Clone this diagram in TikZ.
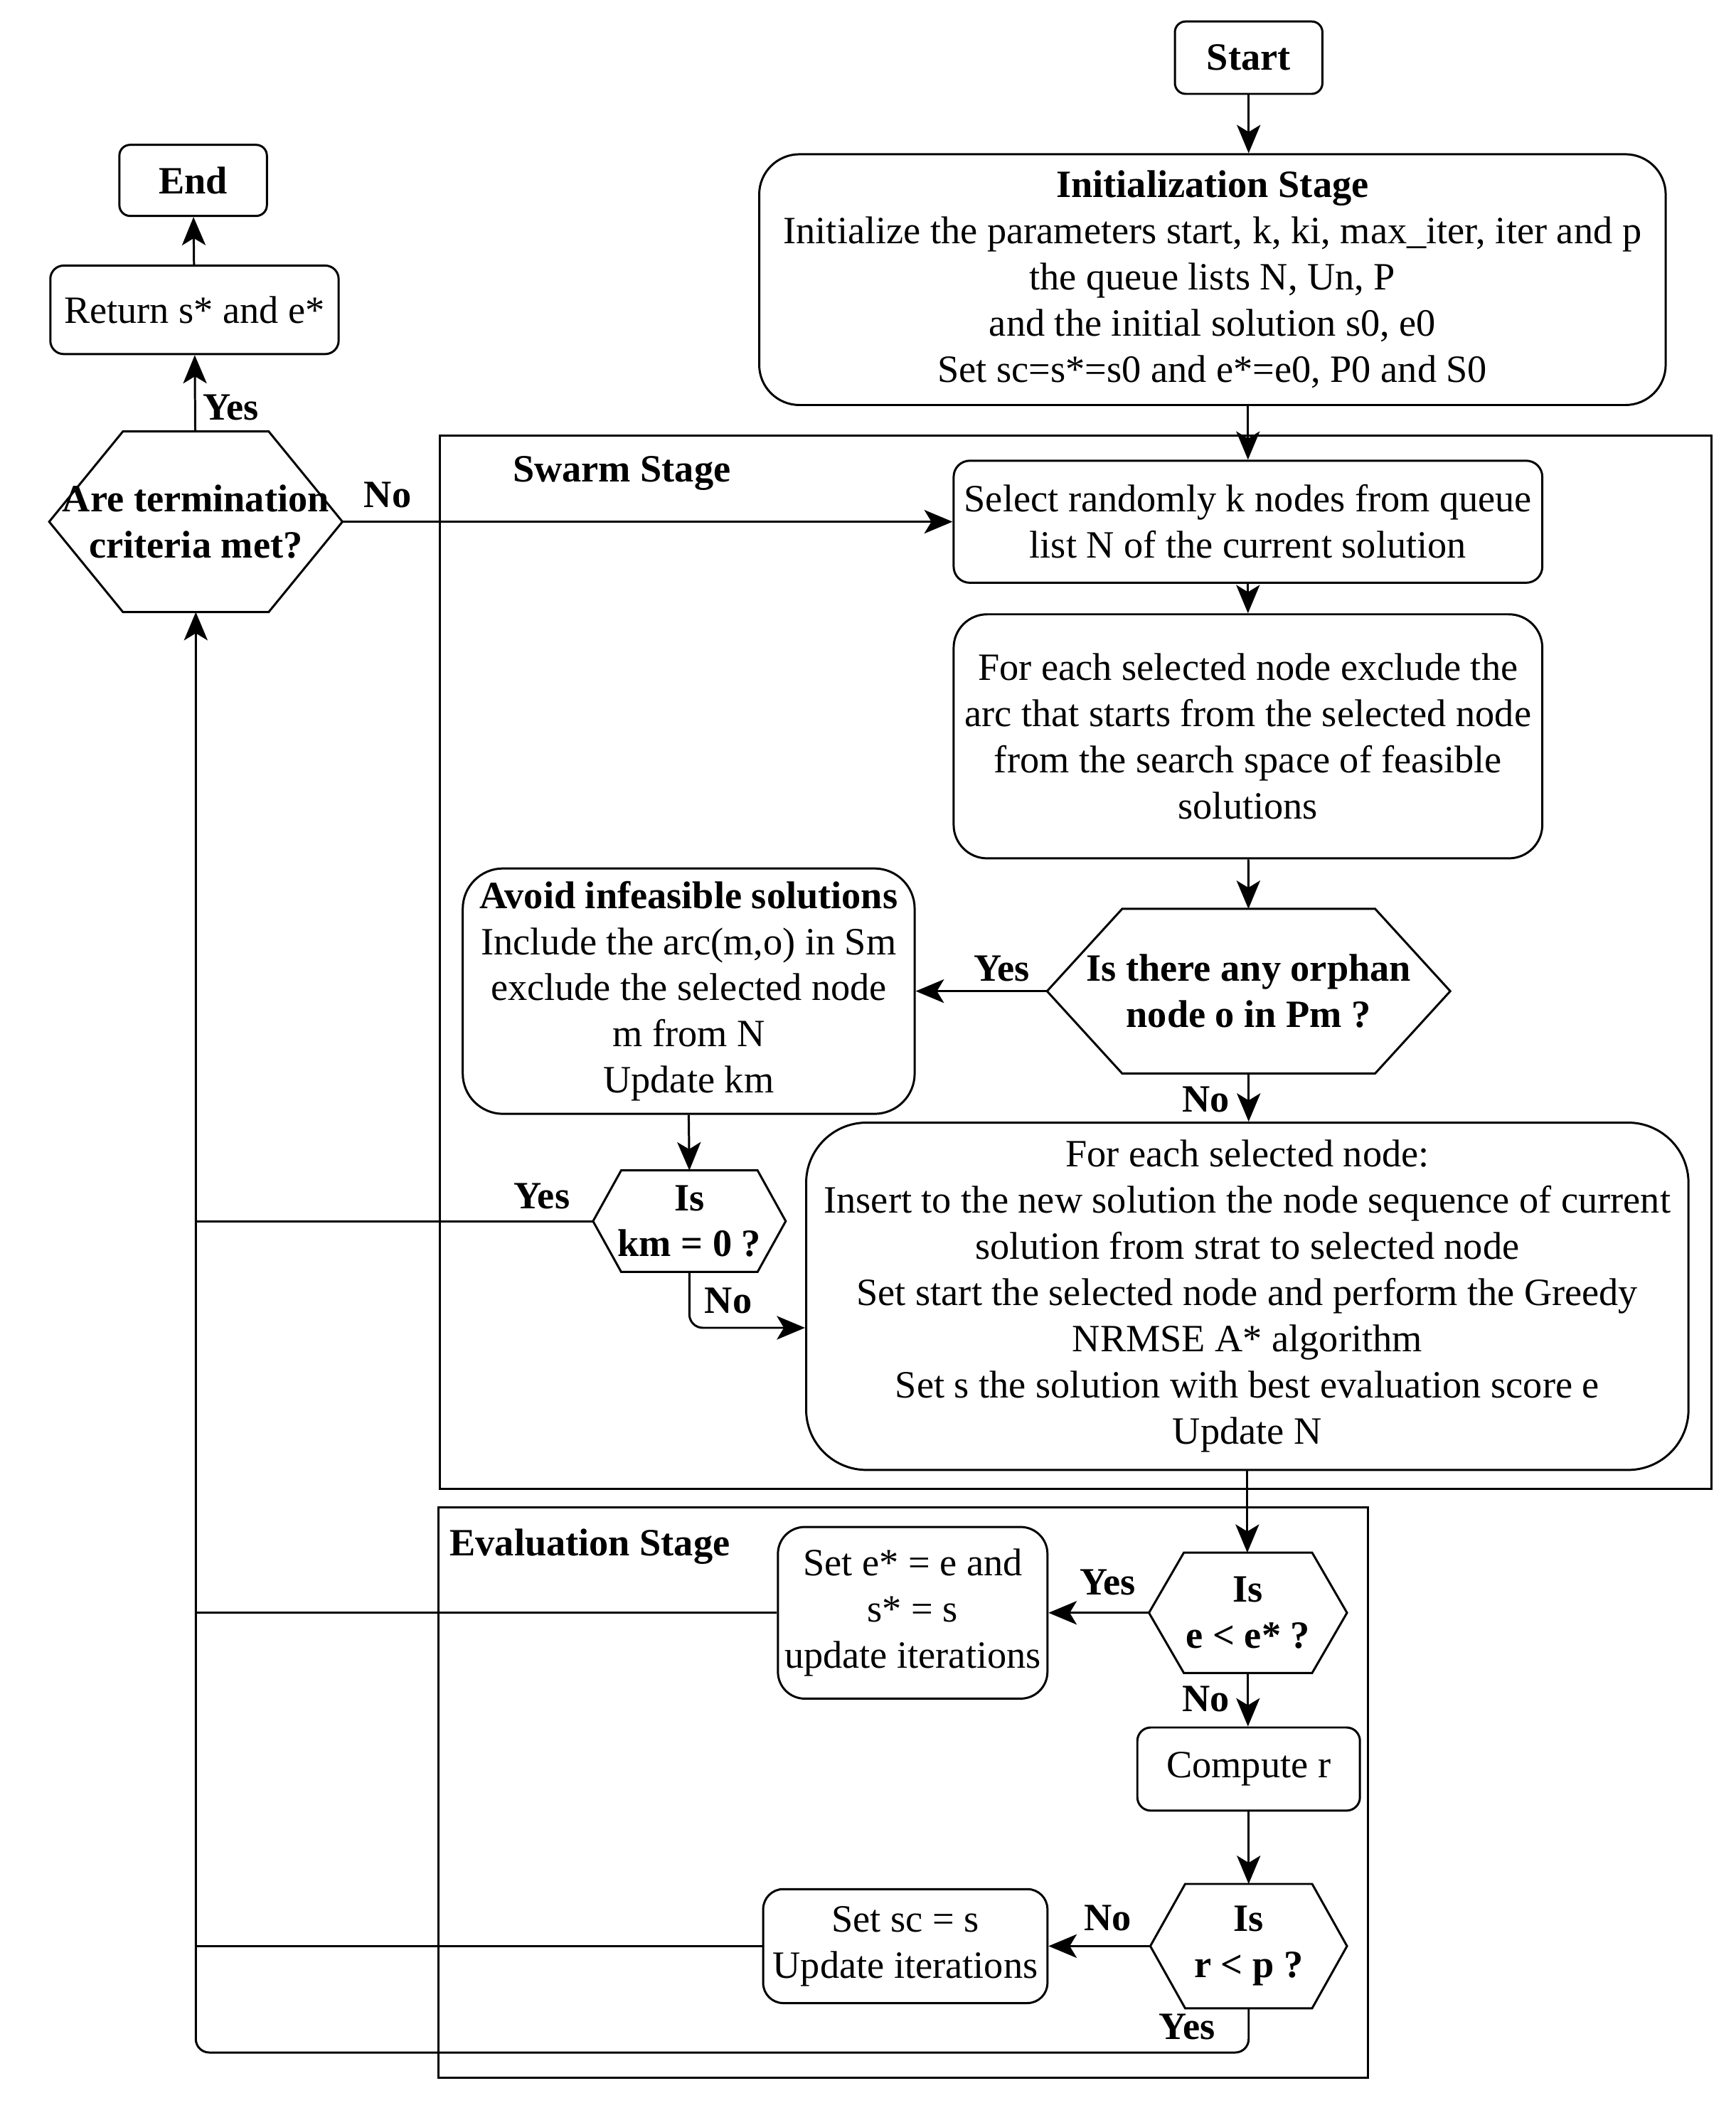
\documentclass[tikz,border=0pt]{standalone}
\usepackage{fontspec}
\setmainfont{Liberation Serif}
\usetikzlibrary{arrows.meta}

\newcommand{\sz}{\fontsize{16.4}{19.6}\selectfont}
\newcommand{\hexout}[2]{\draw[line] (#1.west) -- ([xshift=#2]#1.north west) -- ([xshift=-#2]#1.north east) -- (#1.east) -- ([xshift=-#2]#1.south east) -- ([xshift=#2]#1.south west) -- cycle;}

\tikzset{
  line/.style={line width=0.9pt},
  box/.style={draw, line width=0.9pt, rounded corners=#1, align=center, inner sep=0pt},
  box/.default=0.2cm,
  hexa/.style={align=center, inner sep=0pt, font=\sz\bfseries},
  arr/.style={line width=0.9pt, -{Stealth[length=12pt,width=10pt,inset=3pt]}},
  lbl/.style={font=\sz\bfseries, inner sep=0pt}
}

\begin{document}
\begin{tikzpicture}[x=0.02cm, y=-0.02cm, font=\sz]
\useasboundingbox (0,0) rectangle (1294,1568);

% stages
\draw[line] (328,325) rectangle (1276,1110);
\draw[line] (327,1124) rectangle (1020,1549);
\node (swarm) at (382,353) [lbl, anchor=west] {Swarm Stage};
\node (eval) at (335,1153) [lbl, anchor=west] {Evaluation Stage};

\node (start) at (931,43) [box=0.16cm, minimum width=2.2cm, minimum height=1.08cm] {\textbf{Start}};
\node (init) at (904,208.5) [box=0.6cm, minimum width=13.52cm, minimum height=3.74cm] {\textbf{Initialization Stage}\\Initialize the parameters start, k, ki, max\_iter, iter and p\\the queue lists N, Un, P\\and the initial solution s0, e0\\Set sc=s*=s0 and e*=e0, P0 and S0};
\node (end) at (144,134.5) [box=0.16cm, minimum width=2.2cm, minimum height=1.06cm] {\textbf{End}};
\node (ret) at (145,231) [box=0.2cm, minimum width=4.3cm, minimum height=1.32cm] {Return s* and e*};
\node (term) at (146,389) [hexa, minimum width=4.36cm, minimum height=2.68cm] {Are termination\\criteria met?};

\node (select) at (930.5,389) [box=0.24cm, minimum width=8.78cm, minimum height=1.82cm] {Select randomly k nodes from queue\\list N of the current solution};
\node (excl) at (930.5,549) [box=0.5cm, minimum width=8.78cm, minimum height=3.64cm] {For each selected node exclude the\\arc that starts from the selected node\\from the search space of feasible\\solutions};
\node (orphan) at (931,739) [hexa, minimum width=6cm, minimum height=2.44cm] {Is there any orphan\\node o in Pm ?};
\node (avoid) at (513.5,739) [box=0.6cm, minimum width=6.74cm, minimum height=3.66cm] {\textbf{Avoid infeasible solutions}\\Include the arc(m,o) in Sm\\exclude the selected node\\m from N\\Update km};
\node (km) at (514,910.5) [hexa, minimum width=2.86cm, minimum height=1.5cm] {Is\\km = 0 ?};
\node (big) at (930,966.5) [box=0.9cm, minimum width=13.16cm, minimum height=5.18cm] {For each selected node:\\Insert to the new solution the node sequence of current\\solution from strat to selected node\\Set start the selected node and perform the Greedy\\NRMSE A* algorithm\\Set s the solution with best evaluation score e\\Update N};

\node (ech) at (930.5,1202.5) [hexa, minimum width=2.94cm, minimum height=1.78cm] {Is\\e < e* ?};
\node (sete) at (680.5,1202.5) [box=0.4cm, minimum width=4.02cm, minimum height=2.56cm] {Set e* = e and\\s* = s\\update iterations};
\node (comp) at (931,1319) [box=0.2cm, minimum width=3.32cm, minimum height=1.24cm] {Compute r};
\node (rp) at (931,1451) [hexa, minimum width=2.92cm, minimum height=1.84cm] {Is\\r < p ?};
\node (setsc) at (675,1451) [box=0.3cm, minimum width=4.24cm, minimum height=1.7cm] {Set sc = s\\Update iterations};

\hexout{term}{1.1cm}
\hexout{orphan}{1.12cm}
\hexout{km}{0.42cm}
\hexout{ech}{0.52cm}
\hexout{rp}{0.52cm}

% arrows
\draw[arr] (start) -- (start.south |- init.north);
\draw[arr] (init.south -| select.north) -- (select.north);
\draw[arr] (ret) -- (end);
\draw[arr] (term) -- (ret);
\draw[arr] (term.east) -- (select.west);
\draw[arr] (select) -- (excl);
\draw[arr] (excl) -- (orphan);
\draw[arr] (orphan.west) -- (avoid.east);
\draw[arr] (orphan.south) -- (orphan.south |- big.north);
\draw[arr] (avoid.south) -- (km.north);
\draw[line] (km.west) -- (km.west -| term.south);
\draw[arr, rounded corners=0.2cm] (km.south) |- ([yshift=-0.47cm]big.west);
\draw[arr] (big.south) -- (big.south |- ech.north);
\draw[arr] (ech.west) -- (sete.east);
\draw[line] (sete.west) -- (sete.west -| term.south);
\draw[arr] (ech.south) -- (ech.south |- comp.north);
\draw[arr] (comp) -- (rp);
\draw[arr] (rp.west) -- (setsc.east);
\draw[line] (setsc.west) -- (setsc.west -| term.south);
\draw[arr, rounded corners=0.2cm] (rp.south) -- ++(0,33) -| (term.south);

% labels
\node (yes1) at (172,304) [lbl] {Yes};
\node (no1) at (289,369) [lbl] {No};
\node (yes2) at (747,722) [lbl] {Yes};
\node (no2) at (899,820) [lbl] {No};
\node (yes3) at (404,892) [lbl] {Yes};
\node (no3) at (543,970) [lbl] {No};
\node (yes4) at (826,1180) [lbl] {Yes};
\node (no4) at (899,1267) [lbl] {No};
\node (no5) at (826,1430) [lbl] {No};
\node (yes5) at (885,1511) [lbl] {Yes};

\end{tikzpicture}
\end{document}
